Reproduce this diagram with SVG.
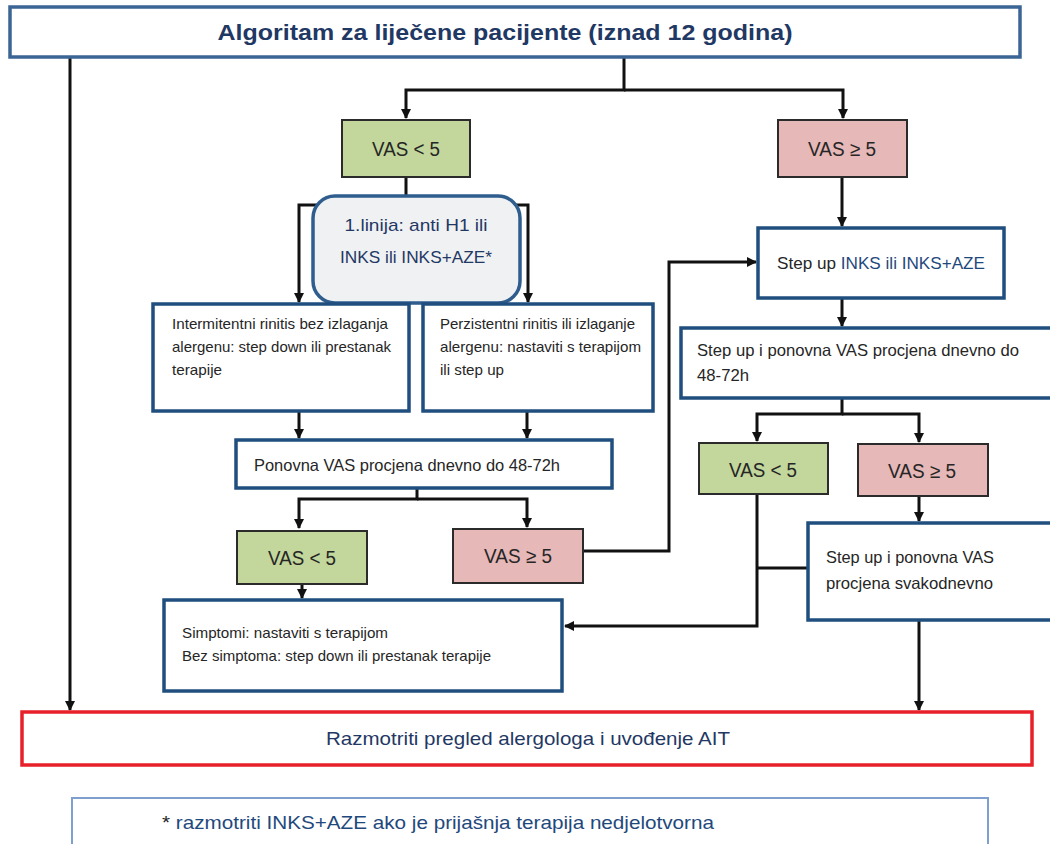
<svg xmlns="http://www.w3.org/2000/svg" width="1050" height="844" viewBox="0 0 1050 844">
<style>
  text { font-family: "Liberation Sans", Arial, sans-serif; fill: #262626; }
  .box { fill: #ffffff; stroke: #1f4e7f; stroke-width: 3.5; }
  .green { fill: #c3d69b; stroke: #2b2b2b; stroke-width: 2; }
  .pink { fill: #e6b8b7; stroke: #2b2b2b; stroke-width: 2; }
  .vas { font-size: 20px; text-anchor: middle; }
  .sm { font-size: 14.5px; }
  .md { font-size: 16.5px; }
  .blue { fill: #1f497d; }
  .conn path { fill: none; stroke: #111; stroke-width: 3; }
</style>
<defs>
  <marker id="ah" markerWidth="10" markerHeight="10" refX="9" refY="5" orient="auto" markerUnits="userSpaceOnUse">
    <path d="M0,0 L10,5 L0,10 z" fill="#111"/>
  </marker>
</defs>
<rect width="1050" height="844" fill="#ffffff"/>

<g class="conn">
  <path d="M70,57 V710" marker-end="url(#ah)"/>
  <path d="M624,57 V90 H406 V118" marker-end="url(#ah)"/>
  <path d="M624,90 H843 V118" marker-end="url(#ah)"/>
  <path d="M406,177 V205 H299 V302" marker-end="url(#ah)"/>
  <path d="M406,205 H528 V302" marker-end="url(#ah)"/>
  <path d="M299,411 V438" marker-end="url(#ah)"/>
  <path d="M527,411 V438" marker-end="url(#ah)"/>
  <path d="M417,488 V499 H299 V528" marker-end="url(#ah)"/>
  <path d="M417,499 H527 V527" marker-end="url(#ah)"/>
  <path d="M302,584 V598" marker-end="url(#ah)"/>
  <path d="M583,551 H669 V262 H756" marker-end="url(#ah)"/>
  <path d="M842,177 V226" marker-end="url(#ah)"/>
  <path d="M842,298 V326" marker-end="url(#ah)"/>
  <path d="M842,398 V414 H757 V441" marker-end="url(#ah)"/>
  <path d="M842,414 H919 V442" marker-end="url(#ah)"/>
  <path d="M919,496 V521" marker-end="url(#ah)"/>
  <path d="M757,494 V626 H565" marker-end="url(#ah)"/>
  <path d="M757,568 H808"/>
  <path d="M919,620 V710" marker-end="url(#ah)"/>
</g>

<g id="title">
  <rect x="10" y="7" width="1010" height="50" fill="#ffffff" stroke="#3b6594" stroke-width="3.5"/>
  <text x="505" y="40" text-anchor="middle" font-size="22" font-weight="bold" style="fill:#1f3864" textLength="575" lengthAdjust="spacingAndGlyphs">Algoritam za liječene pacijente (iznad 12 godina)</text>
</g>

<g id="vas-lt-top">
  <rect class="green" x="342" y="120" width="128" height="57"/>
  <text class="vas" x="406" y="156" textLength="68" lengthAdjust="spacingAndGlyphs">VAS &lt; 5</text>
</g>
<g id="vas-ge-top">
  <rect class="pink" x="778" y="120" width="129" height="57"/>
  <text class="vas" x="842" y="156" textLength="68" lengthAdjust="spacingAndGlyphs">VAS ≥ 5</text>
</g>

<g id="first-line">
  <rect x="313" y="196" width="207" height="107" rx="22" ry="22" fill="#f0f1f3" stroke="#2e5d8e" stroke-width="3.5"/>
  <text x="416" y="231" text-anchor="middle" font-size="17" style="fill:#1f3864" textLength="143" lengthAdjust="spacingAndGlyphs">1.linija: anti H1 ili</text>
  <text x="416" y="263" text-anchor="middle" font-size="17" style="fill:#1f3864" textLength="152" lengthAdjust="spacingAndGlyphs">INKS ili INKS+AZE*</text>
</g>

<g id="intermitentni">
  <rect class="box" x="153" y="304" width="256" height="107"/>
  <text class="sm" x="172" y="329" textLength="216" lengthAdjust="spacingAndGlyphs">Intermitentni rinitis bez izlaganja</text>
  <text class="sm" x="172" y="352" textLength="219" lengthAdjust="spacingAndGlyphs">alergenu: step down ili prestanak</text>
  <text class="sm" x="172" y="375" textLength="50" lengthAdjust="spacingAndGlyphs">terapije</text>
</g>

<g id="perzistentni">
  <rect class="box" x="423" y="304" width="230" height="107"/>
  <text class="sm" x="440" y="329" textLength="195" lengthAdjust="spacingAndGlyphs">Perzistentni rinitis ili izlaganje</text>
  <text class="sm" x="440" y="352" textLength="201" lengthAdjust="spacingAndGlyphs">alergenu: nastaviti s terapijom</text>
  <text class="sm" x="440" y="375" textLength="64" lengthAdjust="spacingAndGlyphs">ili step up</text>
</g>

<g id="ponovna">
  <rect class="box" x="236" y="440" width="376" height="48"/>
  <text class="md" x="254" y="471" textLength="306" lengthAdjust="spacingAndGlyphs">Ponovna VAS procjena dnevno do 48-72h</text>
</g>

<g id="vas-lt-mid">
  <rect class="green" x="237" y="531" width="130" height="53"/>
  <text class="vas" x="302" y="565" textLength="68" lengthAdjust="spacingAndGlyphs">VAS &lt; 5</text>
</g>
<g id="vas-ge-mid">
  <rect class="pink" x="453" y="529" width="130" height="54"/>
  <text class="vas" x="518" y="563" textLength="68" lengthAdjust="spacingAndGlyphs">VAS ≥ 5</text>
</g>

<g id="simptomi">
  <rect class="box" x="164" y="600" width="398" height="91"/>
  <text class="sm" x="182" y="638" textLength="206" lengthAdjust="spacingAndGlyphs">Simptomi: nastaviti s terapijom</text>
  <text class="sm" x="182" y="661" textLength="309" lengthAdjust="spacingAndGlyphs">Bez simptoma: step down ili prestanak terapije</text>
</g>

<g id="step-up">
  <rect class="box" x="758" y="228" width="246" height="70"/>
  <text class="md" x="777" y="269" font-size="17.5" textLength="208" lengthAdjust="spacingAndGlyphs">Step up <tspan class="blue">INKS ili INKS+AZE</tspan></text>
</g>

<g id="step-up-vas">
  <rect class="box" x="681" y="328" width="380" height="70"/>
  <text class="md" x="697" y="356" textLength="322" lengthAdjust="spacingAndGlyphs">Step up i ponovna VAS procjena dnevno do</text>
  <text class="md" x="697" y="381" textLength="52" lengthAdjust="spacingAndGlyphs">48-72h</text>
</g>

<g id="vas-lt-right">
  <rect class="green" x="699" y="443" width="129" height="51"/>
  <text class="vas" x="763" y="477" textLength="68" lengthAdjust="spacingAndGlyphs">VAS &lt; 5</text>
</g>
<g id="vas-ge-right">
  <rect class="pink" x="858" y="444" width="130" height="52"/>
  <text class="vas" x="922" y="478" textLength="68" lengthAdjust="spacingAndGlyphs">VAS ≥ 5</text>
</g>

<g id="step-up-daily">
  <rect class="box" x="808" y="523" width="253" height="97"/>
  <text class="md" x="826" y="563" textLength="168" lengthAdjust="spacingAndGlyphs">Step up i ponovna VAS</text>
  <text class="md" x="826" y="589" textLength="167" lengthAdjust="spacingAndGlyphs">procjena svakodnevno</text>
</g>

<g id="ait">
  <rect x="22" y="712" width="1010" height="53" fill="#ffffff" stroke="#e8202a" stroke-width="3.5"/>
  <text x="528" y="745" text-anchor="middle" font-size="18.5" style="fill:#1f3864" textLength="404" lengthAdjust="spacingAndGlyphs">Razmotriti pregled alergologa i uvođenje AIT</text>
</g>

<g id="footnote">
  <rect x="72" y="798" width="916" height="60" fill="#ffffff" stroke="#7f9fcf" stroke-width="2"/>
  <text x="162" y="829" font-size="18.5" textLength="552" lengthAdjust="spacingAndGlyphs">* <tspan class="blue">razmotriti  INKS+AZE ako je prijašnja terapija nedjelotvorna</tspan></text>
</g>
</svg>
